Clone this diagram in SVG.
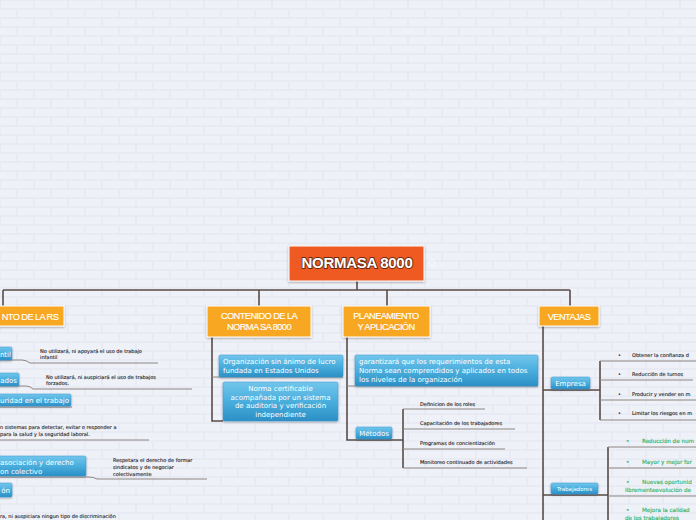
<svg xmlns="http://www.w3.org/2000/svg" width="696" height="520" viewBox="0 0 696 520">
<defs>
<pattern id="brick" width="34" height="18" patternUnits="userSpaceOnUse">
<rect width="34" height="18" fill="#e4e6f0"/>
<rect x="0.5" y="0.5" width="33" height="8" fill="#eff1f8"/>
<rect x="-16.5" y="9.5" width="33" height="8" fill="#eff1f8"/>
<rect x="17.5" y="9.5" width="33" height="8" fill="#eff1f8"/>
</pattern>
<linearGradient id="bg" x1="0" y1="0" x2="0" y2="1">
<stop offset="0" stop-color="#72c6ec"/>
<stop offset="0.5" stop-color="#4aaedd"/>
<stop offset="1" stop-color="#2b8fc5"/>
</linearGradient>
<filter id="sh" x="-10%" y="-20%" width="120%" height="150%">
<feDropShadow dx="0" dy="1" stdDeviation="0.8" flood-color="#000" flood-opacity="0.35"/>
</filter>
<style>
.c{stroke:#5a4c47;stroke-width:1.6;fill:none}
.u{stroke:#8e8684;stroke-width:1;fill:none}
.hdr{fill:#f8a722;stroke:#fff;stroke-width:1;filter:url(#sh)}
.blue{fill:url(#bg);stroke:#3b9bd0;stroke-width:0.5;filter:url(#sh)}
.ht{font-family:"Liberation Sans",Arial,sans-serif;font-size:9.3px;letter-spacing:-0.6px;fill:#fff;text-anchor:middle;stroke:#fff;stroke-width:0.15}
.bt{font-family:"DejaVu Sans",Verdana,sans-serif;font-size:7px;fill:#fff}
.tb{font-size:5.5px}
.st{font-family:"DejaVu Sans",Verdana,sans-serif;font-size:5px;fill:#1e1e1e;stroke:#1e1e1e;stroke-width:0.12}
.gt{font-family:"DejaVu Sans",Verdana,sans-serif;font-size:5.6px;fill:#2fb56f;stroke:#2fb56f;stroke-width:0.15}
</style>
</defs>
<rect width="696" height="520" fill="url(#brick)"/>

<g id="connectors">
<path class="c" d="M357 281V290M3 290H570M3 290V306M259 290V306M387 290V306M570 290V306"/>
<path class="c" d="M212 337V421H223"/>
<path class="u" d="M212 377H343"/>
<path class="c" d="M347 337V440H392"/>
<path class="u" d="M347 386H538"/>
<path class="c" d="M392 440H403M403 409V468"/>
<path class="u" d="M403 409H485M403 429H515M403 449H505M403 468H527"/>
<path class="c" d="M543 326V520M543 390H600M600 361V420"/>
<path class="u" d="M600 361H696M600 380H693M600 400H696M600 420H696"/>
<path class="c" d="M543 495H608M608 447V520"/>
<path class="u" d="M608 447H696M608 468H696M608 496H696"/>
<path class="u" d="M0 360H22Q26 360 30 363H158"/>
<path class="u" d="M0 386H26Q30 386 33 389H192"/>
<path class="u" d="M0 407H72M0 440H149"/>
<path class="u" d="M0 477H88Q94 477 97 479H207"/>
</g>

<g id="root">
<rect x="289" y="246" width="135" height="35" fill="#ee5a24" stroke="#fff" stroke-width="1" filter="url(#sh)"/>
<text x="357" y="268" text-anchor="middle" font-family="Liberation Sans,Arial,sans-serif" font-size="15" font-weight="bold" letter-spacing="-0.3" fill="#fff" stroke="#6b2a10" stroke-width="1.8" paint-order="stroke">NORMASA 8000</text>
<circle cx="432" cy="263" r="3" fill="none" stroke="#fff" stroke-opacity="0.7" stroke-width="0.8"/>
</g>

<g id="n-rs">
<rect class="hdr" x="-40" y="306" width="104" height="20"/>
<text class="ht" x="30" y="320">NTO DE LA RS</text>
</g>

<g id="n-contenido">
<rect class="hdr" x="207" y="306" width="104" height="31"/>
<text class="ht" x="259" y="319">CONTENIDO DE LA</text>
<text class="ht" x="259" y="330">NORMA SA 8000</text>
</g>

<g id="n-planeamiento">
<rect class="hdr" x="343" y="306" width="87" height="31"/>
<text class="ht" x="386" y="319">PLANEAMIENTO</text>
<text class="ht" x="386" y="330">Y APLICACIÓN</text>
</g>

<g id="n-ventajas">
<rect class="hdr" x="539" y="306" width="60" height="20"/>
<text class="ht" x="569" y="320">VENTAJAS</text>
</g>

<g id="n-organizacion">
<rect class="blue" x="219" y="355" width="124" height="22" rx="1.5"/>
<text class="bt" x="223" y="364">Organización sin ánimo de lucro</text>
<text class="bt" x="223" y="373">fundada en Estados Unidos</text>
</g>

<g id="n-norma">
<rect class="blue" x="223" y="382" width="115" height="39" rx="1.5"/>
<text class="bt" text-anchor="middle" x="280.5" y="391">Norma certificable</text>
<text class="bt" text-anchor="middle" x="280.5" y="399.5">acompañada por un sistema</text>
<text class="bt" text-anchor="middle" x="280.5" y="408">de auditoria y verificación</text>
<text class="bt" text-anchor="middle" x="280.5" y="416.5">independiente</text>
</g>

<g id="n-garantizara">
<rect class="blue" x="355" y="355" width="183" height="31" rx="1.5"/>
<text class="bt" x="359" y="364">garantizará que los requerimientos de esta</text>
<text class="bt" x="359" y="373">Norma sean comprendidos y aplicados en todos</text>
<text class="bt" x="359" y="382">los niveles de la organización</text>
</g>

<g id="n-metodos">
<rect class="blue" x="356" y="427" width="36" height="12" rx="1.5"/>
<text class="bt" text-anchor="middle" x="374" y="436">Métodos</text>
</g>
<g id="n-roles"><text class="st" x="420" y="406">Definicion de los roles</text></g>
<g id="n-capacitacion"><text class="st" x="420" y="425">Capacitación de los trabajadores</text></g>
<g id="n-programas"><text class="st" x="420" y="445">Programas de concientización</text></g>
<g id="n-monitoreo"><text class="st" x="420" y="464">Monitoreo continuado de actividades</text></g>

<g id="n-empresa">
<rect class="blue" x="551" y="377" width="39" height="12" rx="1.5"/>
<text class="bt" text-anchor="middle" x="570.5" y="386">Empresa</text>
</g>
<g id="n-e1"><text class="st" x="618" y="357">•</text><text class="st" x="632" y="357">Obtener la confianza d</text></g>
<g id="n-e2"><text class="st" x="618" y="376">•</text><text class="st" x="632" y="376">Reducción de turnos</text></g>
<g id="n-e3"><text class="st" x="618" y="396">•</text><text class="st" x="632" y="396">Producir y vender en m</text></g>
<g id="n-e4"><text class="st" x="618" y="415">•</text><text class="st" x="632" y="415">Limitar los riesgos en m</text></g>

<g id="n-trabajadores">
<rect class="blue" x="551" y="483" width="47" height="11" rx="1.5"/>
<text class="bt tb" text-anchor="middle" x="574.5" y="490.5">Trabajadores</text>
</g>
<g id="n-t1"><text class="gt" x="626" y="443">•</text><text class="gt" x="642" y="443">Reducción de num</text></g>
<g id="n-t2"><text class="gt" x="626" y="464">•</text><text class="gt" x="642" y="464">Mayor y mejor for</text></g>
<g id="n-t3"><text class="gt" x="626" y="484">•</text><text class="gt" x="642" y="484">Nuevas oportunid</text><text class="gt" x="625" y="492">librementeevolución de</text></g>
<g id="n-t4"><text class="gt" x="626" y="512">•</text><text class="gt" x="642" y="512">Mejora la calidad</text><text class="gt" x="625" y="520">de los trabajadores</text></g>

<g id="n-infantil">
<rect class="blue" x="-40" y="347" width="52" height="13" rx="1.5"/>
<text class="bt" text-anchor="end" x="11" y="356.5">ntil</text>
</g>
<g id="n-infantil-t"><text class="st" x="40" y="353">No utilizará, ni apoyará el uso de trabajo</text><text class="st" x="40" y="359">infantil</text></g>

<g id="n-forzados">
<rect class="blue" x="-40" y="373" width="59" height="13" rx="1.5"/>
<text class="bt" text-anchor="end" x="17" y="382.5">ados</text>
</g>
<g id="n-forzados-t"><text class="st" x="46" y="379">No utilizará, ni auspiciará el uso de trabajos</text><text class="st" x="46" y="385">forzados.</text></g>

<g id="n-seguridad">
<rect class="blue" x="-40" y="394" width="111" height="12" rx="1.5"/>
<text class="bt" text-anchor="end" x="69" y="403">uridad en el trabajo</text>
</g>
<g id="n-seguridad-t"><text class="st" x="0" y="429">n sistemas para detectar, evitar o responder a</text><text class="st" x="0" y="436">para la salud y la seguridad laboral.</text></g>

<g id="n-asociacion">
<rect class="blue" x="-40" y="456" width="126" height="20" rx="1.5"/>
<text class="bt" x="0" y="465">asociación y derecho</text>
<text class="bt" x="0" y="473.5">on colectivo</text>
</g>
<g id="n-asociacion-t"><text class="st" x="113" y="462">Respetara el derecho de formar</text><text class="st" x="113" y="469">sindicatos y de negociar</text><text class="st" x="113" y="476">colectivamente</text></g>

<g id="n-discriminacion">
<rect class="blue" x="-40" y="483" width="52" height="14" rx="1.5"/>
<text class="bt" text-anchor="end" x="10" y="493">ón</text>
</g>
<g id="n-discriminacion-t"><text class="st" x="0" y="518">ra, ni auspiciara ningun tipo de discriminación</text></g>
</svg>
